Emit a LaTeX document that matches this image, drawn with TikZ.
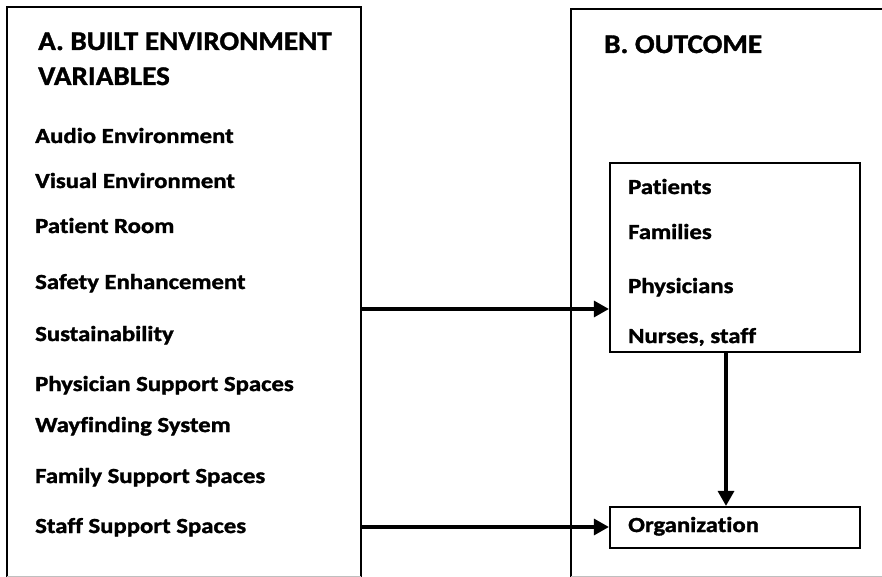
\documentclass[tikz,border=0pt]{standalone}
\usepackage{fontspec}
\setmainfont{Carlito}[Ligatures=NoCommon]
\newfontfamily\headfont{Carlito}[Ligatures=NoCommon,BoldFeatures={FakeStretch=1.08,FakeBold=1.3}]
\newfontfamily\itemfont{Carlito}[Ligatures=NoCommon,BoldFeatures={FakeStretch=1.15,FakeBold=1.5}]
\usetikzlibrary{arrows.meta}
\begin{document}
\begin{tikzpicture}[x=1pt,y=-1pt,
  frame/.style={draw=black,line width=2.2pt},
  faint/.style={draw=black!25,line width=0.8pt},
  head/.style={anchor=base west,inner sep=0pt,font=\headfont\bfseries\fontsize{27}{32}\selectfont},
  item/.style={anchor=base west,inner sep=0pt,font=\itemfont\bfseries\fontsize{21.5}{26}\selectfont},
  flow/.style={line width=3.2pt,-{Triangle[length=15pt,width=16pt]}}]
\useasboundingbox (0,0) rectangle (882,577);
% outer panels (open towards the lower and right edges)
\draw[frame] (7,577) -- (7,7) -- (361,7) -- (361,577);
\draw[faint] (7,576.5) -- (361,576.5);
\draw[frame] (571,577) -- (571,9) -- (884,9);
\draw[faint] (571,576.5) -- (884,576.5);
% panel A
\node[head] (ta1) at (38,50) {A. BUILT ENVIRONMENT};
\node[head] (ta2) at (38,85) {VARIABLES};
\node[item] (a1) at (35,143) {Audio Environment};
\node[item] (a2) at (35,188) {Visual Environment};
\node[item] (a3) at (35,233) {Patient Room};
\node[item] (a4) at (35,289) {Safety Enhancement};
\node[item] (a5) at (35,341) {Sustainability};
\node[item] (a6) at (35,391) {Physician Support Spaces};
\node[item] (a7) at (35,432) {Wayfinding System};
\node[item] (a8) at (35,483) {Family Support Spaces};
\node[item] (a9) at (35,533) {Staff Support Spaces};
% panel B
\node[head] (tb) at (604,53) {B. OUTCOME};
\node[frame,minimum width=250pt,minimum height=189pt,inner sep=0pt] (grp) at (735,257.5) {};
\node[frame,minimum width=250pt,minimum height=41pt,inner sep=0pt] (org) at (735,527.5) {};
\node[item] (b1) at (628,194) {Patients};
\node[item] (b2) at (628,239) {Families};
\node[item] (b3) at (628,293) {Physicians};
\node[item] (b4) at (628,343) {Nurses, staff};
\node[item] (b5) at (628,532) {Organization};
% connectors
\coordinate (s1) at (361,309);
\coordinate (s2) at (361,527);
\draw[flow] (s1) -- (s1 -| grp.west);
\draw[flow] (s2) -- (s2 -| org.west);
\draw[flow] (grp.south -| 726,0) -- (org.north -| 726,0);
\end{tikzpicture}
\end{document}
